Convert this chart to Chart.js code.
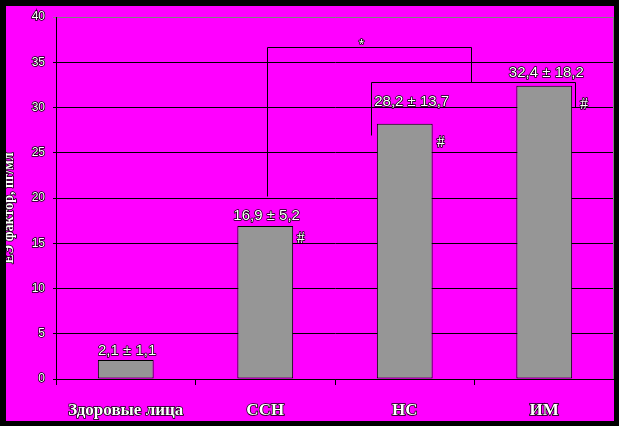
<!DOCTYPE html>
<html>
<head>
<meta charset="utf-8">
<script src="https://cdn.jsdelivr.net/npm/chart.js@4/dist/chart.umd.min.js"></script>
<style>
  body { margin: 0; background: #000; }
  canvas { display: block; }
</style>
</head>
<body>
<canvas id="myChart" width="619" height="426"></canvas>
<script>
var categories = ["Здоровые лица", "ССН", "НС", "ИМ"];
var means = [2.1, 16.9, 28.2, 32.4];
var sds = [1.1, 5.2, 13.7, 18.2];
var yTicks = [0, 5, 10, 15, 20, 25, 30, 35, 40];
var yTitle = "ЕЭ фактор, пг/мл";

// where the "mean ± sd" labels sit, in axis units (category index, value)
var labelX = [0.01, 1.01, 2.05, 3.015];
var labelY = [3.1, 18.0, 30.6, 33.8];

// significance marks
var hashMarks = [[1.254, 15.5], [2.258, 26.1], [3.285, 30.3]];
var starMark = [1.69, 37.1];
var brackets = [
  [[1.015, 20.25], [1.015, 36.65], [2.477, 36.65], [2.477, 32.8]],
  [[1.76, 27.0], [1.76, 32.8], [3.22, 32.8], [3.22, 30.1]],
];

var fmt = function (v) { return String(v).replace(".", ","); };

function outlinedText(ctx, txt, x, y) {
  ctx.lineWidth = 1.5;
  ctx.strokeStyle = "#000";
  ctx.lineJoin = "round";
  ctx.strokeText(txt, x, y);
  ctx.fillStyle = "#fff";
  ctx.fillText(txt, x, y);
}

var decor = {
  id: "decor",
  beforeDraw: function (chart) {
    var ctx = chart.ctx;
    ctx.save();
    ctx.fillStyle = "#ff00ff";
    ctx.fillRect(0, 0, chart.width, chart.height);
    ctx.restore();
  },
  afterDraw: function (chart) {
    var ctx = chart.ctx;
    var xs = chart.scales.x, ys = chart.scales.y;
    var area = chart.chartArea;
    var px = function (c) { return xs.getPixelForValue(c); };
    var py = function (v) { return ys.getPixelForValue(v); };
    ctx.save();

    // right border of the plot
    ctx.strokeStyle = "#808080";
    ctx.lineWidth = 1;
    ctx.beginPath();
    ctx.moveTo(area.right - 0.5, area.top);
    ctx.lineTo(area.right - 0.5, area.bottom);
    ctx.stroke();

    // brackets
    ctx.strokeStyle = "#000";
    brackets.forEach(function (pts) {
      ctx.beginPath();
      pts.forEach(function (p, i) {
        var x = Math.round(px(p[0])) + 0.5, y = Math.round(py(p[1])) + 0.5;
        if (i === 0) ctx.moveTo(x, y); else ctx.lineTo(x, y);
      });
      ctx.stroke();
    });

    // value labels
    ctx.font = "15px 'Liberation Sans', Arial, sans-serif";
    ctx.textAlign = "center";
    ctx.textBaseline = "middle";
    means.forEach(function (m, i) {
      outlinedText(ctx, fmt(m) + " ± " + fmt(sds[i]), px(labelX[i]), py(labelY[i]));
    });

    // # and *
    ctx.font = "16px 'Liberation Serif', 'Times New Roman', serif";
    hashMarks.forEach(function (h) {
      outlinedText(ctx, "#", px(h[0]), py(h[1]));
    });
    ctx.font = "14px 'Liberation Sans', Arial, sans-serif";
    outlinedText(ctx, "*", px(starMark[0]), py(starMark[1]) + 2);

    // y axis title, mostly hidden behind the frame
    ctx.translate(13, 208);
    ctx.rotate(-Math.PI / 2);
    ctx.font = "bold 14px 'Liberation Serif', 'Times New Roman', serif";
    ctx.textBaseline = "alphabetic";
    outlinedText(ctx, yTitle, 0, 0);
    ctx.setTransform(1, 0, 0, 1, 0, 0);
    ctx.restore();

    // black frame
    ctx.save();
    ctx.fillStyle = "#000";
    ctx.fillRect(0, 0, chart.width, 6);
    ctx.fillRect(0, 0, 6, chart.height);
    ctx.fillRect(614, 0, chart.width - 614, chart.height);
    ctx.fillRect(0, 421, chart.width, chart.height - 421);
    ctx.restore();
  },
};

var ctx = document.getElementById("myChart").getContext("2d");
var config = {
  type: "bar",
  data: {
    labels: categories,
    datasets: [
      {
        data: means,
        backgroundColor: "#969696",
        borderColor: "#000",
        borderWidth: 1,
        borderSkipped: false,
        barPercentage: 0.4,
        categoryPercentage: 1,
      },
    ],
  },
  options: {
    responsive: false,
    animation: false,
    layout: { padding: { top: 17, right: 5, left: 0, bottom: 0 } },
    plugins: { legend: { display: false }, tooltip: { enabled: false } },
    scales: {
      x: {
        afterFit: function (s) { s.height = 47; },
        border: { color: "#000", width: 1 },
        grid: {
          offset: true,
          drawOnChartArea: false,
          drawTicks: true,
          tickLength: 6,
          color: "#000",
        },
        ticks: {
          padding: 15,
          color: "#fff",
          textStrokeColor: "#000",
          textStrokeWidth: 1.5,
          font: { family: "'Liberation Serif', 'Times New Roman', serif", size: 17, weight: "bold" },
        },
      },
      y: {
        min: 0,
        max: 40,
        afterFit: function (s) { s.width = 56; },
        afterBuildTicks: function (s) {
          s.ticks = yTicks.map(function (v) { return { value: v }; });
        },
        border: { color: "#000", width: 1 },
        grid: {
          color: function (c) { return c.tick && c.tick.value === 40 ? "#808080" : "#000"; },
          tickLength: 3,
        },
        ticks: {
          padding: 8,
          color: "#fff",
          textStrokeColor: "#000",
          textStrokeWidth: 1.5,
          font: { family: "'Liberation Sans', Arial, sans-serif", size: 12 },
        },
      },
    },
  },
  plugins: [decor],
};
new Chart(ctx, config);
</script>
</body>
</html>
